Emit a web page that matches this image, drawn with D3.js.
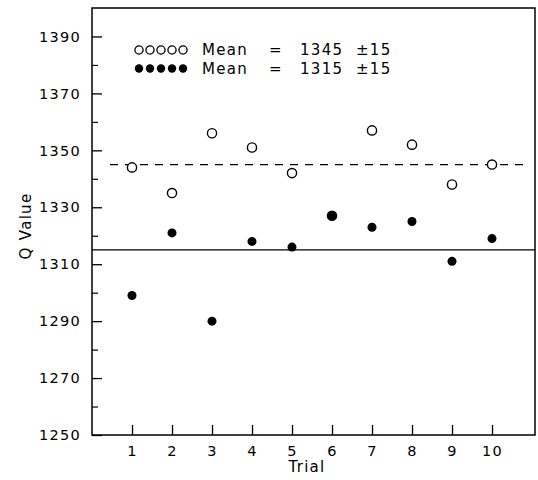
<!DOCTYPE html>
<html>
<head>
<meta charset="utf-8">
<script src="https://cdn.jsdelivr.net/npm/d3@7/dist/d3.min.js"></script>
<style>
  body { margin: 0; background: #fff; }
  svg text { font-family: "DejaVu Sans", sans-serif; fill: #000; letter-spacing: 1.3px; }
</style>
</head>
<body>
<svg id="chart" width="538" height="480"></svg>
<script>
// trials on x, Q values on y
var trials = [1, 2, 3, 4, 5, 6, 7, 8, 9, 10];
var openVals = [1344, 1335, 1356, 1351, 1342, 1327, 1357, 1352, 1338, 1345];
var filledVals = [1299, 1321, 1290, 1318, 1316, 1327, 1323, 1325, 1311, 1319];
var yTicks = [1250, 1270, 1290, 1310, 1330, 1350, 1370, 1390];
var yMinor = [1260, 1280, 1300, 1320, 1340, 1360, 1380];
var meanOpen = 1345, meanFilled = 1315;
var legendRows = [
    { filled: false, mean: "1345", sd: "±15" },
    { filled: true, mean: "1315", sd: "±15" }
];

var svg = d3.select("#chart");
var pL = 92, pR = 535, pT = 8, pB = 435;

var x = d3.scaleLinear().domain([0, 11.075]).range([pL, pR]);
var y = d3.scaleLinear().domain([1250, 1400]).range([pB, pT]);

// frame
svg.append("rect")
    .attr("x", pL).attr("y", pT)
    .attr("width", pR - pL).attr("height", pB - pT)
    .attr("fill", "none").attr("stroke", "#000").attr("stroke-width", 1.5);

// y axis: inward ticks, labels on the left
svg.append("g").attr("transform", "translate(" + pL + ",0)")
    .call(d3.axisRight(y).tickValues(yTicks).tickSize(10).tickFormat(""))
    .call(function (g) { g.select(".domain").remove(); })
    .selectAll("line").attr("stroke-width", 1.3);
svg.append("g").attr("transform", "translate(" + pL + ",0)")
    .call(d3.axisRight(y).tickValues(yMinor).tickSize(6).tickFormat(""))
    .call(function (g) { g.select(".domain").remove(); })
    .selectAll("line").attr("stroke-width", 1.2);

svg.selectAll(".ylab").data(yTicks).enter().append("text")
    .attr("class", "ylab")
    .attr("x", 81).attr("y", function (d) { return y(d); })
    .attr("dy", "0.36em").attr("text-anchor", "end")
    .attr("font-size", 14.5)
    .text(function (d) { return d; });

// x axis: ticks pointing up
svg.append("g").attr("transform", "translate(0," + pB + ")")
    .call(d3.axisTop(x).tickValues(trials).tickSize(10).tickFormat(""))
    .call(function (g) { g.select(".domain").remove(); })
    .selectAll("line").attr("stroke-width", 1.3);

svg.selectAll(".xlab").data(trials).enter().append("text")
    .attr("class", "xlab")
    .attr("x", function (d) { return x(d) + 0.6; }).attr("y", 456)
    .attr("text-anchor", "middle").attr("font-size", 14.5)
    .text(function (d) { return d; });

svg.append("text").attr("x", 307).attr("y", 472)
    .attr("text-anchor", "middle").attr("font-size", 15).text("Trial");

svg.append("text")
    .attr("transform", "translate(31,226) rotate(-90)")
    .attr("text-anchor", "middle").attr("font-size", 15).text("Q Value");

// mean lines
svg.append("line")
    .attr("x1", 110).attr("x2", 527)
    .attr("y1", y(meanOpen)).attr("y2", y(meanOpen))
    .attr("stroke", "#000").attr("stroke-width", 1.3)
    .attr("stroke-dasharray", "8,7");
svg.append("line")
    .attr("x1", pL).attr("x2", pR)
    .attr("y1", y(meanFilled)).attr("y2", y(meanFilled))
    .attr("stroke", "#000").attr("stroke-width", 1.3);

// points
svg.selectAll(".filled").data(trials).enter().append("circle")
    .attr("class", "filled")
    .attr("cx", function (d) { return x(d); })
    .attr("cy", function (d, i) { return y(filledVals[i]); })
    .attr("r", 4.5).attr("fill", "#000");

svg.selectAll(".open").data(trials).enter().append("circle")
    .attr("class", "open")
    .attr("cx", function (d) { return x(d); })
    .attr("cy", function (d, i) { return y(openVals[i]); })
    .attr("r", 4.6).attr("fill", "#fff").attr("fill-opacity", function (d, i) {
        return openVals[i] === filledVals[i] ? 0 : 1;
    })
    .attr("stroke", "#000").attr("stroke-width", 1.4);

// legend
var leg = svg.selectAll(".leg").data(legendRows).enter().append("g")
    .attr("class", "leg")
    .attr("transform", function (d, i) { return "translate(0," + (50 + i * 18.5) + ")"; });

leg.each(function (d) {
    var g = d3.select(this);
    d3.range(5).forEach(function (k) {
        g.append("circle")
            .attr("cx", 139 + k * 11).attr("cy", 0)
            .attr("r", d.filled ? 4.2 : 4.1)
            .attr("fill", d.filled ? "#000" : "#fff")
            .attr("stroke", "#000").attr("stroke-width", d.filled ? 0 : 1.3);
    });
    g.append("text").attr("x", 202).attr("y", 0).attr("dy", "0.36em")
        .attr("font-size", 15).text("Mean");
    g.append("text").attr("x", 269).attr("y", 0).attr("dy", "0.36em")
        .attr("font-size", 15).text("=");
    g.append("text").attr("x", 300).attr("y", 0).attr("dy", "0.36em")
        .attr("font-size", 15).text(d.mean);
    g.append("text").attr("x", 356).attr("y", 0).attr("dy", "0.36em")
        .attr("font-size", 15).text(d.sd);
});
</script>
</body>
</html>
